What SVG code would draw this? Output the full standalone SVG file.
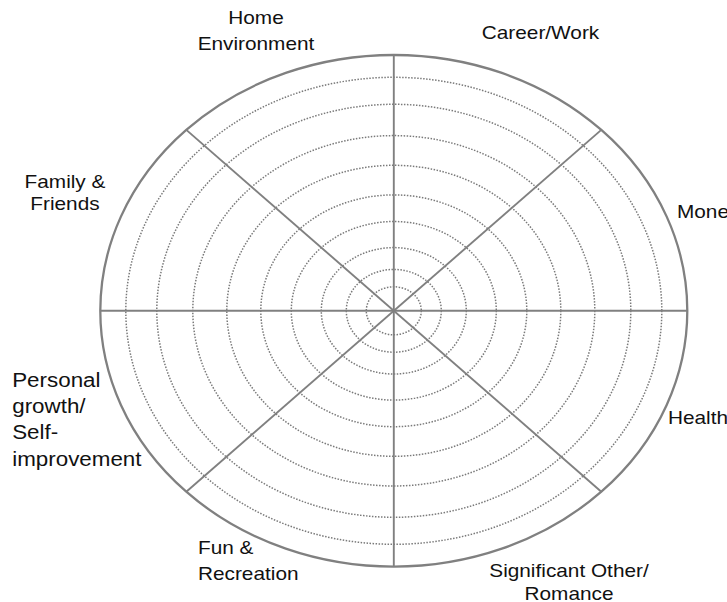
<svg xmlns="http://www.w3.org/2000/svg" width="727" height="602" viewBox="0 0 727 602">
<style>
.ring{fill:none;stroke:#7a7a7a;stroke-width:1.5;stroke-dasharray:1.5 1.5}
.outer{fill:none;stroke:#808080;stroke-width:2.3}
.spoke{stroke:#808080;stroke-width:1.9;fill:none}
.lbl{font-family:"Liberation Sans",Arial,sans-serif;font-size:20.8px;fill:#111}
.big{font-size:22.4px}
.c{text-anchor:middle}
</style>
<rect width="727" height="602" fill="#fff"/>
<g id="wheel">
<g id="rings">
<ellipse class="ring" cx="393.8" cy="310.8" rx="27.5" ry="24"/>
<ellipse class="ring" cx="393.8" cy="310.8" rx="47.5" ry="41.4"/>
<ellipse class="ring" cx="393.8" cy="310.8" rx="72.5" ry="63.2"/>
<ellipse class="ring" cx="393.8" cy="310.8" rx="102.5" ry="89.3"/>
<ellipse class="ring" cx="393.8" cy="310.8" rx="133" ry="115.9"/>
<ellipse class="ring" cx="393.8" cy="310.8" rx="167" ry="145.5"/>
<ellipse class="ring" cx="393.8" cy="310.8" rx="201" ry="175.2"/>
<ellipse class="ring" cx="393.8" cy="310.8" rx="237" ry="206.5"/>
<ellipse class="ring" cx="393.8" cy="310.8" rx="268" ry="233.5"/>
</g>
<ellipse id="outline" class="outer" cx="393.8" cy="310.8" rx="293.5" ry="255.8"/>
</g>
<g id="connectors">
<line class="spoke" x1="393.8" y1="55" x2="393.8" y2="566.6"/>
<line class="spoke" x1="100.3" y1="310.8" x2="687.3" y2="310.8"/>
<line class="spoke" x1="186.3" y1="129.9" x2="601.3" y2="491.7"/>
<line class="spoke" x1="601.3" y1="129.9" x2="186.3" y2="491.7"/>
</g>
<g id="labels" transform="scale(1,0.88)">
<g id="home"><text class="lbl c" x="256" y="27.3">Home</text><text class="lbl c" x="256" y="56.3">Environment</text></g>
<g id="career"><text class="lbl c" x="540.5" y="44.7">Career/Work</text></g>
<g id="money"><text class="lbl" x="677" y="247.7">Money</text></g>
<g id="health"><text class="lbl" x="668" y="481.8">Health</text></g>
<g id="romance"><text class="lbl c" x="569" y="655.7">Significant Other/</text><text class="lbl c" x="569" y="682">Romance</text></g>
<g id="fun"><text class="lbl" x="198" y="629.5">Fun &amp;</text><text class="lbl" x="198" y="659">Recreation</text></g>
<g id="personal"><text class="lbl big" x="12.2" y="439.4">Personal</text><text class="lbl big" x="12.2" y="469">growth/</text><text class="lbl big" x="12.2" y="499.4">Self-</text><text class="lbl big" x="12.2" y="529">improvement</text></g>
<g id="family"><text class="lbl c" x="65" y="214">Family &amp;</text><text class="lbl c" x="65" y="238.6">Friends</text></g>
</g>
</svg>
